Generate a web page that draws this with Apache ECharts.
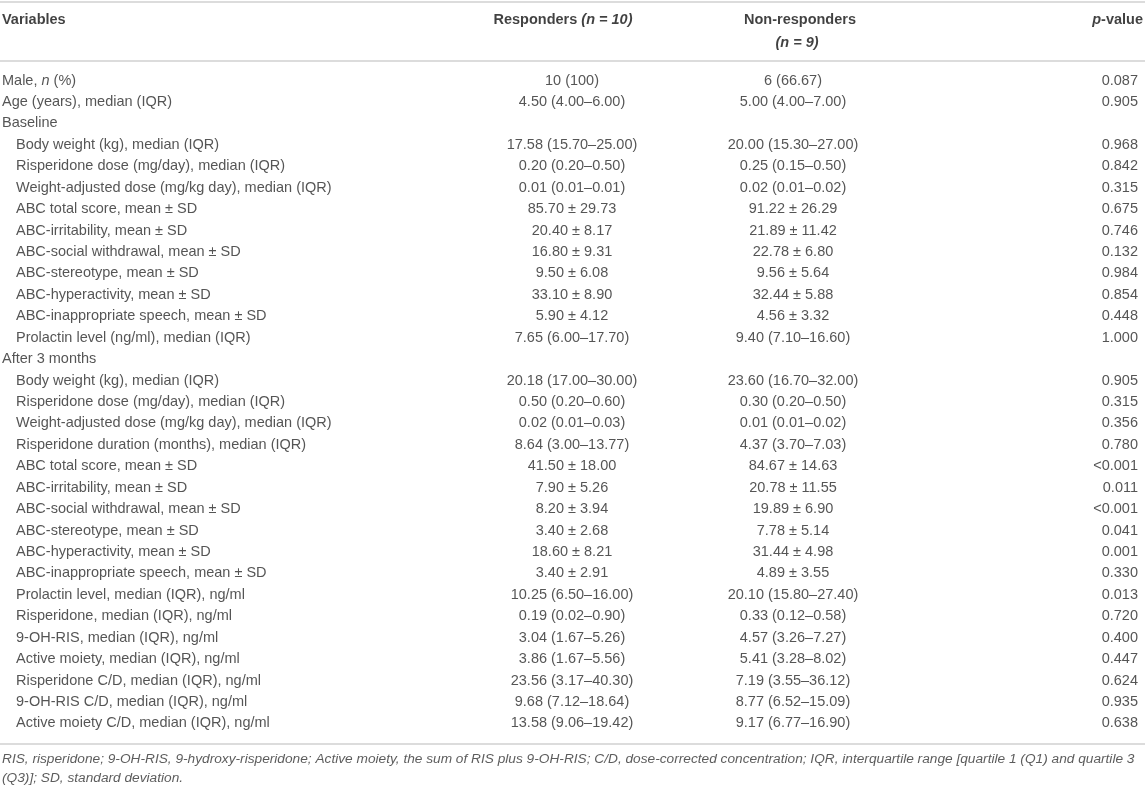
<!DOCTYPE html>
<html>
<head>
<meta charset="utf-8">
<script src="https://cdn.jsdelivr.net/npm/echarts@6/dist/echarts.min.js"></script>
<style>
html,body{margin:0;padding:0;background:#fff;}
#chart{width:1145px;height:789px;}
</style>
</head>
<body>
<div id="chart"></div>
<script>
// ---- data ----
const sections = ['Baseline', 'After 3 months'];
const variables = [
  'Male, n (%)',
  'Age (years), median (IQR)',
  'Baseline',
  'Body weight (kg), median (IQR)',
  'Risperidone dose (mg/day), median (IQR)',
  'Weight-adjusted dose (mg/kg day), median (IQR)',
  'ABC total score, mean ± SD',
  'ABC-irritability, mean ± SD',
  'ABC-social withdrawal, mean ± SD',
  'ABC-stereotype, mean ± SD',
  'ABC-hyperactivity, mean ± SD',
  'ABC-inappropriate speech, mean ± SD',
  'Prolactin level (ng/ml), median (IQR)',
  'After 3 months',
  'Body weight (kg), median (IQR)',
  'Risperidone dose (mg/day), median (IQR)',
  'Weight-adjusted dose (mg/kg day), median (IQR)',
  'Risperidone duration (months), median (IQR)',
  'ABC total score, mean ± SD',
  'ABC-irritability, mean ± SD',
  'ABC-social withdrawal, mean ± SD',
  'ABC-stereotype, mean ± SD',
  'ABC-hyperactivity, mean ± SD',
  'ABC-inappropriate speech, mean ± SD',
  'Prolactin level, median (IQR), ng/ml',
  'Risperidone, median (IQR), ng/ml',
  '9-OH-RIS, median (IQR), ng/ml',
  'Active moiety, median (IQR), ng/ml',
  'Risperidone C/D, median (IQR), ng/ml',
  '9-OH-RIS C/D, median (IQR), ng/ml',
  'Active moiety C/D, median (IQR), ng/ml'
];
const responders = [
  '10 (100)', '4.50 (4.00–6.00)', '',
  '17.58 (15.70–25.00)', '0.20 (0.20–0.50)', '0.01 (0.01–0.01)',
  '85.70 ± 29.73', '20.40 ± 8.17', '16.80 ± 9.31', '9.50 ± 6.08',
  '33.10 ± 8.90', '5.90 ± 4.12', '7.65 (6.00–17.70)',
  '',
  '20.18 (17.00–30.00)', '0.50 (0.20–0.60)', '0.02 (0.01–0.03)', '8.64 (3.00–13.77)',
  '41.50 ± 18.00', '7.90 ± 5.26', '8.20 ± 3.94', '3.40 ± 2.68', '18.60 ± 8.21',
  '3.40 ± 2.91', '10.25 (6.50–16.00)', '0.19 (0.02–0.90)', '3.04 (1.67–5.26)',
  '3.86 (1.67–5.56)', '23.56 (3.17–40.30)', '9.68 (7.12–18.64)', '13.58 (9.06–19.42)'
];
const nonResponders = [
  '6 (66.67)', '5.00 (4.00–7.00)', '',
  '20.00 (15.30–27.00)', '0.25 (0.15–0.50)', '0.02 (0.01–0.02)',
  '91.22 ± 26.29', '21.89 ± 11.42', '22.78 ± 6.80', '9.56 ± 5.64',
  '32.44 ± 5.88', '4.56 ± 3.32', '9.40 (7.10–16.60)',
  '',
  '23.60 (16.70–32.00)', '0.30 (0.20–0.50)', '0.01 (0.01–0.02)', '4.37 (3.70–7.03)',
  '84.67 ± 14.63', '20.78 ± 11.55', '19.89 ± 6.90', '7.78 ± 5.14', '31.44 ± 4.98',
  '4.89 ± 3.55', '20.10 (15.80–27.40)', '0.33 (0.12–0.58)', '4.57 (3.26–7.27)',
  '5.41 (3.28–8.02)', '7.19 (3.55–36.12)', '8.77 (6.52–15.09)', '9.17 (6.77–16.90)'
];
const pValues = [
  '0.087', '0.905', '',
  '0.968', '0.842', '0.315', '0.675', '0.746', '0.132', '0.984', '0.854', '0.448', '1.000',
  '',
  '0.905', '0.315', '0.356', '0.780', '<0.001', '0.011', '<0.001', '0.041', '0.001',
  '0.330', '0.013', '0.720', '0.400', '0.447', '0.624', '0.935', '0.638'
];
const headers = ['Variables', 'Responders (n = 10)', 'Non-responders', '(n = 9)', 'p-value'];
const footnotes = [
  'RIS, risperidone; 9-OH-RIS, 9-hydroxy-risperidone; Active moiety, the sum of RIS plus 9-OH-RIS; C/D, dose-corrected concentration; IQR, interquartile range [quartile 1 (Q1) and quartile 3',
  '(Q3)]; SD, standard deviation.'
];

// ---- layout ----
const W = 1145, H = 789;
const rowPx = 21.43, firstRowPx = 80.5;
const yMin = -firstRowPx / rowPx;
const yMax = yMin + H / rowPx;
const py = p => yMin + p / rowPx;           // pixel -> axis unit (for header/footer/rules)
const X_VAR = 2, X_IND = 16, X_RESP = 572, X_NON = 793, X_P = 1138;
const FS = 14.5;
const TXT = '#2a2a2a';
const FONT = 'Liberation Sans, Arial, sans-serif';

let inSection = false;
const varData = variables.map((v, i) => {
  const isSec = sections.includes(v);
  if (isSec) inSection = true;
  const indent = inSection && !isSec;
  return { value: [indent ? X_IND : X_VAR, i], name: v };
});

function italicN(s) {
  return s.replace(', n (', ', {i|n} (');
}

function textSeries(data, align, fmt) {
  return {
    type: 'scatter',
    symbolSize: 0,
    silent: true,
    animation: false,
    data: data,
    label: {
      show: true,
      position: 'inside',
      align: align,
      verticalAlign: 'middle',
      color: TXT,
      fontFamily: FONT,
      fontSize: FS,
      formatter: fmt,
      rich: {
        i: { fontStyle: 'italic', fontSize: FS, color: TXT, fontFamily: FONT }
      }
    }
  };
}

const boldRich = {
  b: { fontWeight: 'bold', fontSize: FS, color: '#111', fontFamily: FONT },
  bi: { fontWeight: 'bold', fontStyle: 'italic', fontSize: FS, color: '#111', fontFamily: FONT }
};

function headerSeries(x, yp, text, align) {
  return {
    type: 'scatter', symbolSize: 0, silent: true, animation: false,
    data: [{ value: [x, py(yp)], name: text }],
    label: {
      show: true, position: 'inside', align: align, verticalAlign: 'middle',
      formatter: p => {
        const t = p.name;
        const m = t.match(/^(.*?)(\(n = \d+\))$/);
        if (m) return (m[1] ? '{b|' + m[1] + '}' : '') + '{bi|' + m[2] + '}';
        if (t === 'p-value') return '{bi|p}{b|-value}';
        return '{b|' + t + '}';
      },
      rich: boldRich
    }
  };
}

const option = {
  backgroundColor: '#fff',
  grid: { left: 0, right: 0, top: 0, bottom: 0 },
  xAxis: { type: 'value', min: 0, max: W, show: false },
  yAxis: { type: 'value', inverse: true, min: yMin, max: yMax, show: false },
  series: [
    // rules
    {
      type: 'line', data: [], silent: true, animation: false,
      markLine: {
        silent: true, symbol: 'none', animation: false,
        label: { show: false },
        lineStyle: { color: '#dcdcdc', width: 2, type: 'solid' },
        data: [{ yAxis: py(1.5) }, { yAxis: py(60.5) }, { yAxis: py(743.5) }]
      }
    },
    // headers
    headerSeries(X_VAR, 20, headers[0], 'left'),
    headerSeries(563, 20, headers[1], 'center'),
    headerSeries(800, 20, headers[2], 'center'),
    headerSeries(797, 43, headers[3], 'center'),
    headerSeries(1143, 20, headers[4], 'right'),
    // body
    textSeries(varData, 'left', p => italicN(p.name)),
    textSeries(responders.map((v, i) => ({ value: [X_RESP, i], name: v })), 'center', p => p.name),
    textSeries(nonResponders.map((v, i) => ({ value: [X_NON, i], name: v })), 'center', p => p.name),
    textSeries(pValues.map((v, i) => ({ value: [X_P, i], name: v })), 'right', p => p.name),
    // footnotes
    {
      type: 'scatter', symbolSize: 0, silent: true, animation: false,
      data: footnotes.map((t, i) => ({ value: [X_VAR, py(759 + i * 19)], name: t })),
      label: {
        show: true, position: 'inside', align: 'left', verticalAlign: 'middle',
        formatter: p => p.name,
        fontStyle: 'italic', fontSize: 13.7, color: '#333',
        fontFamily: FONT
      }
    }
  ]
};

const chart = echarts.init(document.getElementById('chart'), null, { renderer: 'canvas' });
chart.setOption(option);
</script>
</body>
</html>
